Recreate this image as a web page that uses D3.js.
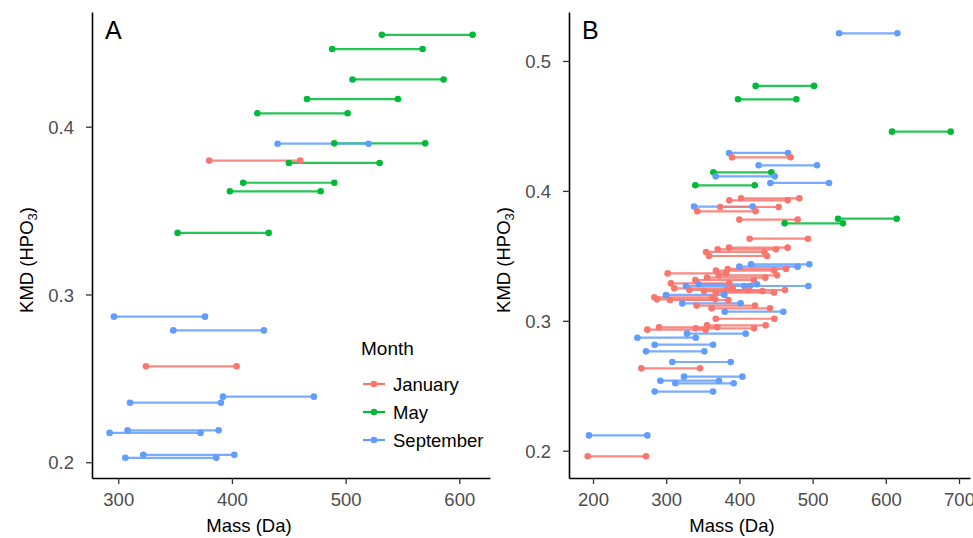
<!DOCTYPE html>
<html>
<head>
<meta charset="utf-8">
<script src="https://cdn.jsdelivr.net/npm/d3@7"></script>
<style>
  body { margin: 0; background: #fff; }
  svg { font-family: "Liberation Sans", Arial, sans-serif; }
</style>
</head>
<body>
<svg id="chart" width="973" height="538"></svg>
<script>
// months and colours
const months = ["January", "May", "September"];
const monthColors = ["#F8766D", "#00BA38", "#619CFF"];

// panel A: month, start mass, end mass, KMD
const aMonth = ["May","May","May","May","May","May","September","January","May","May","May","May",
  "September","September","January","September","September","September","September","September","September"];
const aStart = [531.9,488.2,506.1,466.0,422.3,490.0,440.2,380.0,450.1,409.9,398.2,352.2,
  296.2,348.4,324.4,392.1,310.3,308.2,292.4,322.0,306.2];
const aEnd = [611.7,567.7,586.2,546.0,501.8,570.0,520.2,460.1,529.9,490.0,478.0,432.3,
  376.3,428.1,404.1,472.1,390.3,388.3,372.4,402.1,386.2];
const aKmd = [0.4548,0.4463,0.4282,0.4165,0.4080,0.3901,0.3899,0.3798,0.3784,0.3666,0.3615,0.3367,
  0.2868,0.2786,0.2572,0.2391,0.2355,0.2190,0.2175,0.2044,0.2026];

// panel B
const bMonth = ["September","May","May","May","September","January","September","May","September","September","May",
  "January","January","September","January","January","January","May","May","January","January","January","January","January",
  "September","September","January","January","January","January","January","January","January","September","September","September",
  "January","January","January","January","January","September","January","January","January","September","January","January",
  "September","January","January","January","January","January","September","September","September","September","September",
  "January","September","September","September","September","September","January"];
const bStart = [536.1,422.2,398.1,608.5,385.8,389.9,426.3,364.4,367.6,442.3,339.8,
  402.2,386.2,338.0,373.9,342.5,399.9,534.7,461.8,414.0,385.8,370.3,354.4,358.5,
  415.8,399.9,384.0,368.0,302.0,371.7,355.7,339.8,306.5,344.4,327.0,414.5,
  311.1,331.6,382.6,351.6,367.6,299.7,283.8,287.4,305.2,322.0,341.6,362.1,
  379.9,367.6,355.7,290.2,340.3,274.2,328.4,260.6,284.2,272.4,308.4,
  266.0,324.3,292.0,312.5,284.2,194.5,192.7];
const bEnd = [615.8,501.9,477.8,688.6,466.4,470.0,506.0,443.6,448.2,522.4,420.9,
  481.8,465.9,418.1,453.6,422.2,479.6,614.9,541.5,493.7,465.9,450.0,434.1,437.7,
  495.5,479.6,463.7,447.7,381.7,451.4,435.4,419.5,386.2,424.0,406.7,494.2,
  390.8,411.3,462.3,431.3,447.3,379.4,363.5,367.1,384.9,401.7,421.3,441.8,
  460.0,447.7,435.9,369.8,419.9,353.9,408.6,340.3,364.0,352.1,388.1,
  346.2,404.0,372.1,392.2,364.0,274.2,272.4];
const bKmd = [0.5213,0.4808,0.4705,0.4456,0.4292,0.4258,0.4197,0.4143,0.4112,0.4061,0.4043,
  0.3943,0.3927,0.3879,0.3876,0.3843,0.3779,0.3786,0.3750,0.3632,0.3563,0.3550,0.3530,0.3499,
  0.3435,0.3417,0.3399,0.3386,0.3365,0.3350,0.3332,0.3314,0.3288,0.3281,0.3268,0.3268,
  0.3250,0.3237,0.3237,0.3229,0.3217,0.3199,0.3181,0.3165,0.3160,0.3134,0.3117,0.3096,
  0.3070,0.3016,0.2965,0.2950,0.2942,0.2932,0.2901,0.2870,0.2816,0.2765,0.2683,
  0.2634,0.2570,0.2539,0.2519,0.2455,0.2118,0.1957];

const aXTicks = [300, 400, 500, 600];
const aYTicks = [0.2, 0.3, 0.4];
const bXTicks = [200, 300, 400, 500, 600, 700];
const bYTicks = [0.2, 0.3, 0.4, 0.5];

const color = d3.scaleOrdinal().domain(months).range(monthColors);
const svg = d3.select("#chart");

function drawPanel(p) {
  const x = d3.scaleLinear().domain(p.xDomain).range([p.left, p.right]);
  const y = d3.scaleLinear().domain(p.yDomain).range([p.bottom, p.top]);
  const data = p.month.map((m, i) => ({ month: m, start: p.start[i], end: p.end[i], kmd: p.kmd[i] }));
  const g = svg.append("g");

  // axes
  const xAxis = g.append("g")
    .attr("transform", "translate(0," + p.bottom + ")")
    .call(d3.axisBottom(x).tickValues(p.xTicks).tickSize(6).tickPadding(5).tickSizeOuter(0));
  const yAxis = g.append("g")
    .attr("transform", "translate(" + p.left + ",0)")
    .call(d3.axisLeft(y).tickValues(p.yTicks).tickSize(6).tickPadding(12).tickFormat(d3.format(".1f")).tickSizeOuter(0));
  [xAxis, yAxis].forEach(a => {
    a.select(".domain").attr("stroke", "#000").attr("stroke-width", 1.6);
    a.selectAll(".tick line").attr("stroke", "#333").attr("stroke-width", 1.3);
    a.selectAll(".tick text").attr("fill", "#4d4d4d").style("font-size", "18.5px");
  });
  xAxis.selectAll(".tick text").attr("dy", "0.9em");
  yAxis.selectAll(".tick text").attr("dy", "0.36em");

  // segments
  g.selectAll("line.seg")
    .data(data)
    .enter()
    .append("line")
    .attr("class", "seg")
    .attr("x1", d => x(d.start))
    .attr("x2", d => x(d.end))
    .attr("y1", d => y(d.kmd))
    .attr("y2", d => y(d.kmd))
    .attr("stroke", d => color(d.month))
    .attr("stroke-width", 2.2)
    .attr("stroke-opacity", 0.85);

  const pts = data.flatMap(d => [{ m: d.month, v: d.start, k: d.kmd }, { m: d.month, v: d.end, k: d.kmd }]);
  g.selectAll("circle.pt")
    .data(pts)
    .enter()
    .append("circle")
    .attr("class", "pt")
    .attr("cx", d => x(d.v))
    .attr("cy", d => y(d.k))
    .attr("r", 3.3)
    .attr("fill", d => color(d.m));

  // panel letter
  g.append("text")
    .attr("x", p.left + 13)
    .attr("y", 39)
    .style("font-size", "25px")
    .text(p.letter);

  // axis titles
  g.append("text")
    .attr("x", p.xTitleX)
    .attr("y", 532)
    .attr("text-anchor", "middle")
    .style("font-size", "18.5px")
    .text("Mass (Da)");
  const yt = g.append("text")
    .attr("transform", "translate(" + p.yTitleX + ",260) rotate(-90)")
    .attr("text-anchor", "middle")
    .style("font-size", "18.5px");
  yt.append("tspan").text("KMD (HPO");
  yt.append("tspan").attr("dy", 4).style("font-size", "13px").text("3");
  yt.append("tspan").attr("dy", -4).text(")");
}

drawPanel({
  letter: "A", month: aMonth, start: aStart, end: aEnd, kmd: aKmd,
  xDomain: [276.9, 627.0], yDomain: [0.1906, 0.4684],
  left: 92, right: 490, top: 12, bottom: 478,
  xTicks: aXTicks, yTicks: aYTicks, xTitleX: 249, yTitleX: 33
});
drawPanel({
  letter: "B", month: bMonth, start: bStart, end: bEnd, kmd: bKmd,
  xDomain: [167.2, 715.0], yDomain: [0.1790, 0.5377],
  left: 569, right: 970, top: 12, bottom: 478,
  xTicks: bXTicks, yTicks: bYTicks, xTitleX: 732, yTitleX: 510
});

// legend
const legend = svg.append("g").attr("transform", "translate(361,0)");
legend.append("text")
  .attr("x", 0)
  .attr("y", 355)
  .style("font-size", "19px")
  .text("Month");
const items = legend.selectAll("g.item")
  .data(months)
  .enter()
  .append("g")
  .attr("class", "item")
  .attr("transform", (d, i) => "translate(0," + (384 + i * 28) + ")");
items.append("line")
  .attr("x1", 2).attr("x2", 24)
  .attr("stroke", d => color(d))
  .attr("stroke-width", 2.2);
items.append("circle")
  .attr("cx", 13)
  .attr("r", 3.3)
  .attr("fill", d => color(d));
items.append("text")
  .attr("x", 32)
  .attr("dy", "0.36em")
  .style("font-size", "18.5px")
  .text(d => d);
</script>
</body>
</html>
